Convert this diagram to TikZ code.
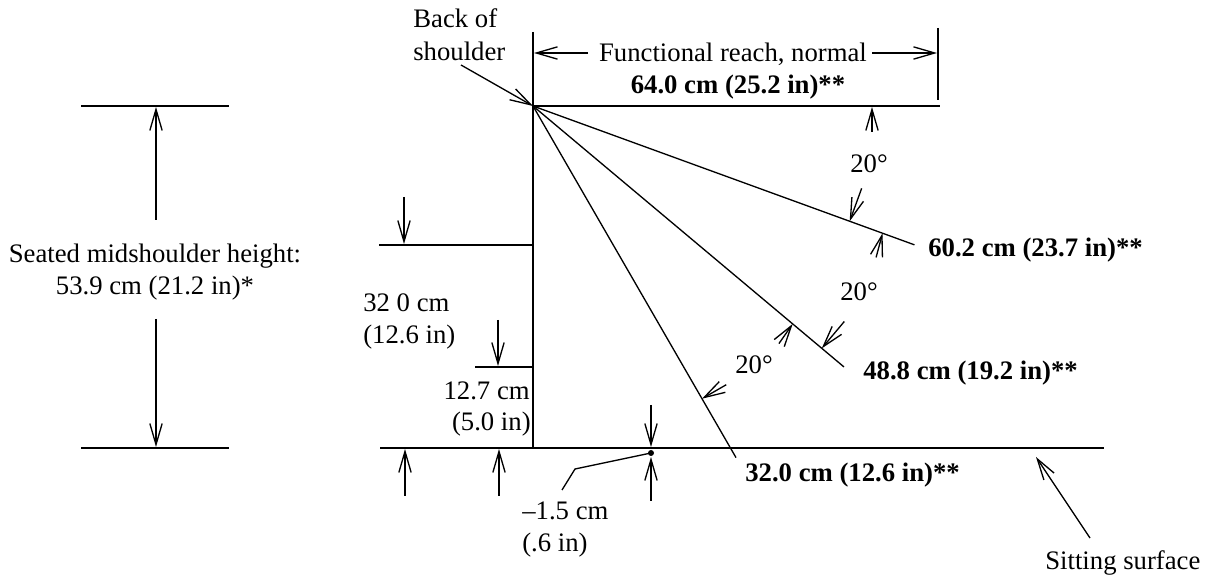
\documentclass[tikz,border=0pt]{standalone}
\usepackage{fontspec}
\setmainfont{Liberation Serif}
\usetikzlibrary{arrows.meta,calc}
\begin{document}
\begin{tikzpicture}[x=0.02cm,y=-0.02cm,
  every node/.style={font=\fontsize{15.2}{17}\selectfont, inner sep=0pt},
  ln/.style={line width=0.75pt},
  arr/.style={line width=0.75pt,-{Straight Barb[length=12pt,width=7pt,line width=0.75pt]}},
  bold/.style={font=\fontsize{15.2}{17}\selectfont\bfseries}]
\useasboundingbox (0,0) rectangle (1208,577);
% key points
\coordinate (S) at (533,106);
\coordinate (vtop) at (533,32);
\coordinate (vbot) at (533,448);
\coordinate (topR) at (940,106);
\coordinate (tickT) at (938,28);
\coordinate (tickB) at (938,100);
\coordinate (R1) at ($(S)+(20:406)$);
\coordinate (R2) at ($(S)+(40:406)$);
\coordinate (R3) at ($(S)+(60:406)$);
\coordinate (F1) at (380,448);
\coordinate (F2) at (1104,448);
% structure lines
\draw[ln] (vtop) -- (vbot);
\draw[ln] (S) -- (topR);
\draw[ln] (tickT) -- (tickB);
\draw[ln] (F1) -- (F2);
\draw[ln] (S) -- (R1);
\draw[ln] (S) -- (R2);
\draw[ln] (S) -- (R3);
% functional reach
\node[anchor=base] (fr) at (733,62) {Functional reach, normal};
\node[bold,anchor=base] (fr2) at (738,94) {64.0 cm (25.2 in)**};
\coordinate (frLt) at (588,53); \coordinate (frL) at (534,53);
\coordinate (frRt) at (872,53); \coordinate (frR) at (937,53);
\draw[arr] (frLt) -- (frL);
\draw[arr] (frRt) -- (frR);
% back of shoulder
\node[anchor=base west] (bs1) at (413,28) {Back of};
\node[anchor=base west] (bs2) at (413,61) {shoulder};
\coordinate (bsT) at (461,65);
\draw[arr] (bsT) -- (S);
% left dimension
\coordinate (LT1) at (81,106); \coordinate (LT2) at (229,106);
\coordinate (LB1) at (81,448); \coordinate (LB2) at (229,448);
\draw[ln] (LT1) -- (LT2);
\draw[ln] (LB1) -- (LB2);
\node[anchor=base] (sm1) at (155,263) {Seated midshoulder height:};
\node[anchor=base] (sm2) at (155,295) {53.9 cm (21.2 in)*};
\coordinate (la1) at (156,220); \coordinate (la1t) at (156,107);
\coordinate (la2) at (156,319); \coordinate (la2t) at (156,447);
\draw[arr] (la1) -- (la1t);
\draw[arr] (la2) -- (la2t);
% 32.0 dimension
\coordinate (H1a) at (379,245); \coordinate (H1b) at (533,245);
\draw[ln] (H1a) -- (H1b);
\coordinate (d1) at (404,197); \coordinate (d1t) at (404,244);
\draw[arr] (d1) -- (d1t);
\coordinate (u1) at (405,496); \coordinate (u1t) at (405,449);
\draw[arr] (u1) -- (u1t);
\node[anchor=base west] (t32a) at (363,312) {32 0 cm};
\node[anchor=base west] (t32b) at (363,344) {(12.6 in)};
% 12.7 dimension
\coordinate (H2a) at (475,367); \coordinate (H2b) at (533,367);
\draw[ln] (H2a) -- (H2b);
\coordinate (d2) at (498,320); \coordinate (d2t) at (498,366);
\draw[arr] (d2) -- (d2t);
\coordinate (u2) at (499,496); \coordinate (u2t) at (499,449);
\draw[arr] (u2) -- (u2t);
\node[anchor=base east] (t127a) at (530,400) {12.7 cm};
\node[anchor=base east] (t127b) at (531,431) {(5.0 in)};
% -1.5 dimension
\coordinate (D) at (651,453);
\fill (D) circle (3);
\coordinate (d3) at (651,405); \coordinate (d3t) at (651,447);
\draw[arr] (d3) -- (d3t);
\coordinate (u3) at (651,501); \coordinate (u3t) at (651,457);
\draw[arr] (u3) -- (u3t);
\node[anchor=base west] (t15a) at (522,520) {–1.5 cm};
\node[anchor=base west] (t15b) at (522,552) {(.6 in)};
\coordinate (k1) at (575,469); \coordinate (k2) at (562,490);
\draw[ln] (D) -- (k1) -- (k2);
% angle marks
\coordinate (a1) at (872,132); \coordinate (a1t) at (872,107);
\draw[arr] (a1) -- (a1t);
\node[anchor=base west] (g1) at (850,173) {20°};
\coordinate (a2t) at ($(S)+(20:337)$); \coordinate (a2) at ($(a2t)+(-70:35)$);
\draw[arr] (a2) -- (a2t);
\coordinate (a3t) at ($(S)+(20:372)$); \coordinate (a3) at ($(a3t)+(105:25)$);
\draw[arr] (a3) -- (a3t);
\node[anchor=base west] (g2) at (840,301) {20°};
\coordinate (a4t) at ($(S)+(40:377)$); \coordinate (a4) at ($(a4t)+(-50:35)$);
\draw[arr] (a4) -- (a4t);
\coordinate (a5t) at ($(S)+(40:339)$); \coordinate (a5) at ($(a5t)+(125:24)$);
\draw[arr] (a5) -- (a5t);
\node[anchor=base west] (g3) at (735,374) {20°};
\coordinate (a6t) at ($(S)+(60:338)$); \coordinate (a6) at ($(a6t)+(-30:28)$);
\draw[arr] (a6) -- (a6t);
% reach labels
\node[bold,anchor=base west] (r1) at (928,257) {60.2 cm (23.7 in)**};
\node[bold,anchor=base west] (r2) at (863,380) {48.8 cm (19.2 in)**};
\node[bold,anchor=base west] (r3) at (745,482) {32.0 cm (12.6 in)**};
% sitting surface
\node[anchor=base west] (ss) at (1045,570) {Sitting surface};
\coordinate (ssT) at (1090,538); \coordinate (ssH) at (1036,457);
\draw[arr] (ssT) -- (ssH);
\end{tikzpicture}
\end{document}
